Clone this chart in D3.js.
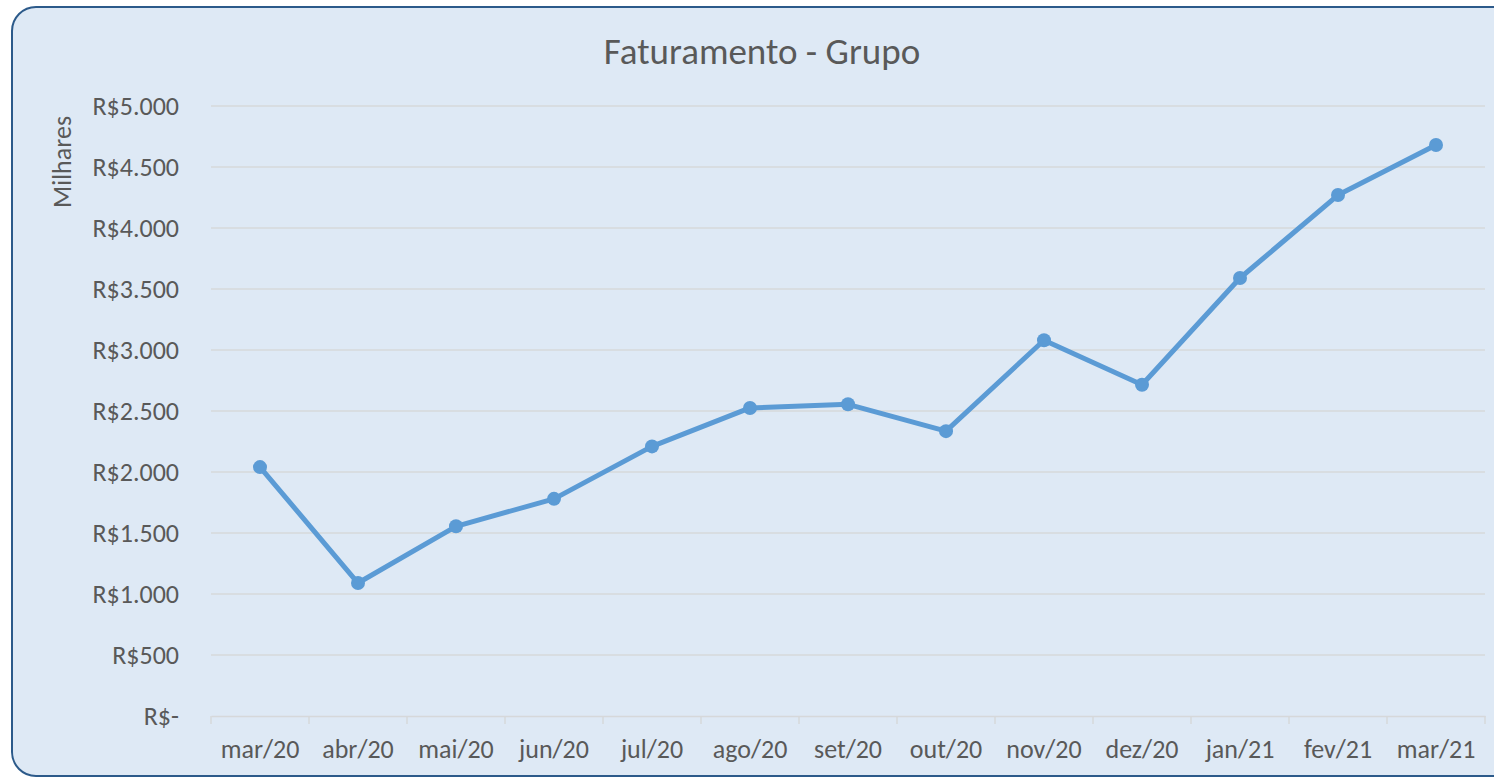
<!DOCTYPE html>
<html>
<head>
<meta charset="utf-8">
<script src="https://cdn.jsdelivr.net/npm/d3@7"></script>
<style>
  body { margin: 0; background: #fff; }
  svg { display: block; }
</style>
</head>
<body>
<svg id="chart"></svg>
<script>
// data
const months = ["mar/20", "abr/20", "mai/20", "jun/20", "jul/20", "ago/20", "set/20",
  "out/20", "nov/20", "dez/20", "jan/21", "fev/21", "mar/21"]
const faturamento = [2040, 1090, 1555, 1780, 2210, 2525, 2555, 2335, 3080, 2715, 3590, 4270, 4680]
const yTicks = [0, 500, 1000, 1500, 2000, 2500, 3000, 3500, 4000, 4500, 5000]

const width = 1494, height = 779
const margin = { top: 106, right: 9, bottom: 63, left: 211 }
const font = "Carlito, 'Open Sans', 'Liberation Sans', sans-serif"

const svg = d3.select("#chart")
  .attr("width", width)
  .attr("height", height)

// chart background with rounded border
svg.append("rect")
  .attr("x", 12).attr("y", 7)
  .attr("width", 1520).attr("height", 769)
  .attr("rx", 24).attr("ry", 24)
  .attr("fill", "#dee9f5")
  .attr("stroke", "#2c5a8a")
  .attr("stroke-width", 2)

const x = d3.scaleBand()
  .domain(months)
  .range([margin.left, width - margin.right])

const y = d3.scaleLinear()
  .domain([0, 5000])
  .range([height - margin.bottom, margin.top])

function fmt(v) {
  if (v == 0) return "R$-"
  return "R$" + d3.format(",")(v).replace(/,/g, ".")
}

// grid lines
svg.append("g")
  .selectAll("line")
  .data(yTicks.filter(d => d > 0))
  .join("line")
  .attr("x1", margin.left)
  .attr("x2", width - margin.right)
  .attr("y1", d => y(d))
  .attr("y2", d => y(d))
  .attr("stroke", "#d6d8da")
  .attr("stroke-width", 1.5)

// y labels
svg.append("g")
  .selectAll("text")
  .data(yTicks)
  .join("text")
  .attr("x", 179)
  .attr("y", d => y(d))
  .attr("dy", "0.35em")
  .attr("text-anchor", "end")
  .attr("font-family", font)
  .attr("font-size", 26)
  .attr("fill", "#595959")
  .text(fmt)

// x axis
const xAxis = d3.axisBottom(x).tickSize(0).tickFormat(d => d)
const gx = svg.append("g")
  .attr("transform", "translate(0," + y(0) + ")")
  .call(xAxis)
gx.select(".domain").attr("stroke", "#d6d8da").attr("stroke-width", 1.5)
gx.selectAll("text")
  .attr("font-family", font)
  .attr("font-size", 26)
  .attr("fill", "#595959")
  .attr("dy", "0")
  .attr("y", 42)

// category boundary ticks
const bounds = months.map(m => x(m)).concat([x(months[months.length - 1]) + x.bandwidth()])
svg.append("g")
  .selectAll("line")
  .data(bounds)
  .join("line")
  .attr("x1", d => d).attr("x2", d => d)
  .attr("y1", y(0)).attr("y2", y(0) + 8)
  .attr("stroke", "#d6d8da")
  .attr("stroke-width", 1.5)

// line
const cx = d => x(d) + x.bandwidth() / 2
const line = d3.line()
  .x((d, i) => cx(months[i]))
  .y(d => y(d))

svg.append("path")
  .datum(faturamento)
  .attr("d", line)
  .attr("fill", "none")
  .attr("stroke", "#5b9bd5")
  .attr("stroke-width", 5)
  .attr("stroke-linejoin", "round")

svg.append("g")
  .selectAll("circle")
  .data(faturamento)
  .join("circle")
  .attr("cx", (d, i) => cx(months[i]))
  .attr("cy", d => y(d))
  .attr("r", 7)
  .attr("fill", "#5b9bd5")

// title
svg.append("text")
  .attr("x", 762)
  .attr("y", 64)
  .attr("text-anchor", "middle")
  .attr("font-family", font)
  .attr("font-size", 37)
  .attr("fill", "#595959")
  .text("Faturamento - Grupo")

// y axis unit label
svg.append("text")
  .attr("transform", "translate(71,162) rotate(-90)")
  .attr("text-anchor", "middle")
  .attr("font-family", font)
  .attr("font-size", 26)
  .attr("fill", "#595959")
  .text("Milhares")
</script>
</body>
</html>
